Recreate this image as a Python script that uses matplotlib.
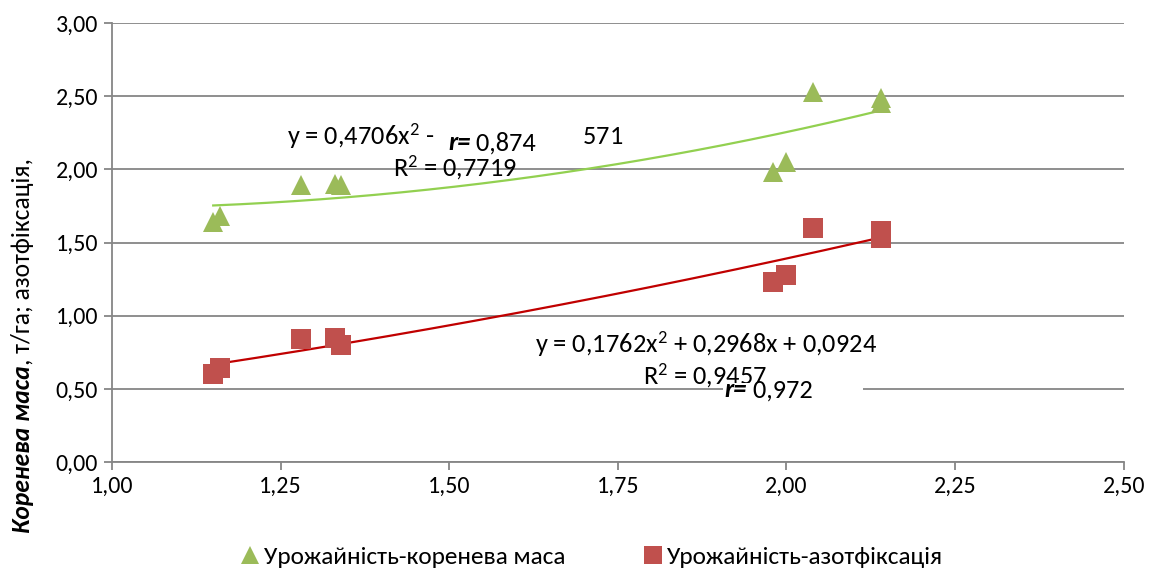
import numpy as np
import matplotlib.pyplot as plt
from matplotlib.patches import Rectangle

plt.rcParams['font.family'] = ['Carlito', 'DejaVu Sans']
plt.rcParams['mathtext.fontset'] = 'custom'
plt.rcParams['mathtext.rm'] = 'Carlito'
plt.rcParams['mathtext.it'] = 'Carlito'

# урожайність (x) vs коренева маса / азотфіксація
x_vals = [1.15, 1.16, 1.28, 1.33, 1.34, 1.98, 2.00, 2.04, 2.14, 2.14]
root_mass = [1.64, 1.68, 1.89, 1.90, 1.89, 1.98, 2.05, 2.53, 2.49, 2.45]
nitrogen_fix = [0.60, 0.64, 0.84, 0.85, 0.80, 1.23, 1.28, 1.60, 1.58, 1.53]

# коефіцієнти поліноміальних трендів (a, b, c)
root_coef = [0.4706, -0.8925, 2.1571]
nitro_coef = [0.1762, 0.2968, 0.0924]

x_ticks = [1.00, 1.25, 1.50, 1.75, 2.00, 2.25, 2.50]
y_ticks = [0.00, 0.50, 1.00, 1.50, 2.00, 2.50, 3.00]

GREEN = '#9BBB59'
RED = '#C0504D'
GRID = '#868686'

fig = plt.figure(figsize=(11.49, 5.74), dpi=100)
ax = fig.add_axes([0.0975, 0.195, 0.8805, 0.765])

ax.set_xlim(1.0, 2.5)
ax.set_ylim(0.0, 3.0)
ax.set_xticks(x_ticks)
ax.set_yticks(y_ticks)
ax.set_xticklabels([f'{t:.2f}'.replace('.', ',') for t in x_ticks])
ax.set_yticklabels([f'{t:.2f}'.replace('.', ',') for t in y_ticks])
ax.tick_params(labelsize=17.3, colors=GRID, labelcolor='black', length=6, width=1.3,
               direction='out', pad=4)
ax.grid(axis='y', color=GRID, linewidth=1.3)
ax.set_axisbelow(True)
for s in ['top', 'right']:
    ax.spines[s].set_visible(False)
for s in ['left', 'bottom']:
    ax.spines[s].set_color(GRID)
    ax.spines[s].set_linewidth(1.3)

ax.plot(x_vals, root_mass, '^', color=GREEN, markersize=15, markeredgewidth=0,
        label='Урожайність-коренева маса', zorder=3)
ax.plot(x_vals, nitrogen_fix, 's', color=RED, markersize=14, markeredgewidth=0,
        label='Урожайність-азотфіксація', zorder=3)

xs = np.linspace(min(x_vals), max(x_vals), 200)
ax.plot(xs, np.polyval(root_coef, xs), color='#92D050', linewidth=1.6, zorder=2)
ax.plot(xs, np.polyval(nitro_coef, xs), color='#C00000', linewidth=1.6, zorder=2)

renderer = fig.canvas.get_renderer()
inv = ax.transData.inverted()


def r_label(x, y, value):
    # жирний курсив "r=" і звичайне значення поруч
    t = ax.text(x, y, 'r=', fontsize=fs, fontweight='bold', style='italic',
                ha='left', va='center', zorder=6)
    x1 = inv.transform(t.get_window_extent(renderer).get_points())[1][0]
    ax.text(x1, y, ' ' + value, fontsize=fs, ha='left', va='center', zorder=6)


fs = 19
ax.text(1.509, 2.228, r'y = 0,4706x$^2$ - 0,8925x + 2,1571', fontsize=fs, ha='center', va='center', zorder=4)
ax.text(1.509, 2.009, r'R$^2$ = 0,7719', fontsize=fs, ha='center', va='center', zorder=4)
ax.add_patch(Rectangle((1.481, 2.08), 0.217, 0.24, facecolor='white', edgecolor='none', zorder=5))
r_label(1.498, 2.18, '0,874')

ax.text(1.880, 0.806, r'y = 0,1762x$^2$ + 0,2968x + 0,0924', fontsize=fs, ha='center', va='center', zorder=4)
ax.text(1.880, 0.588, r'R$^2$ = 0,9457', fontsize=fs, ha='center', va='center', zorder=4)
ax.add_patch(Rectangle((1.906, 0.355), 0.207, 0.185, facecolor='white', edgecolor='none', zorder=5))
r_label(1.908, 0.495, '0,972')

ax.legend(loc='center', bbox_to_anchor=(0.475, -0.216), ncol=2, frameon=False,
          fontsize=18.3, handlelength=0.7, handletextpad=0.2, columnspacing=3.1,
          markerscale=0.88)

# підпис осі Y з двох частин: жирний курсив + звичайний
t1 = fig.text(0.020, 0.0714, 'Коренева маса', rotation=90, fontsize=18.4,
              fontweight='bold', style='italic', ha='center', va='bottom')
fig.canvas.draw()
bb = t1.get_window_extent(renderer).transformed(fig.transFigure.inverted())
fig.text(0.020, bb.y1, ', т/га; азотфіксація,', rotation=90, fontsize=18.4,
         ha='center', va='bottom')

fig.savefig('out.png', dpi=100)
